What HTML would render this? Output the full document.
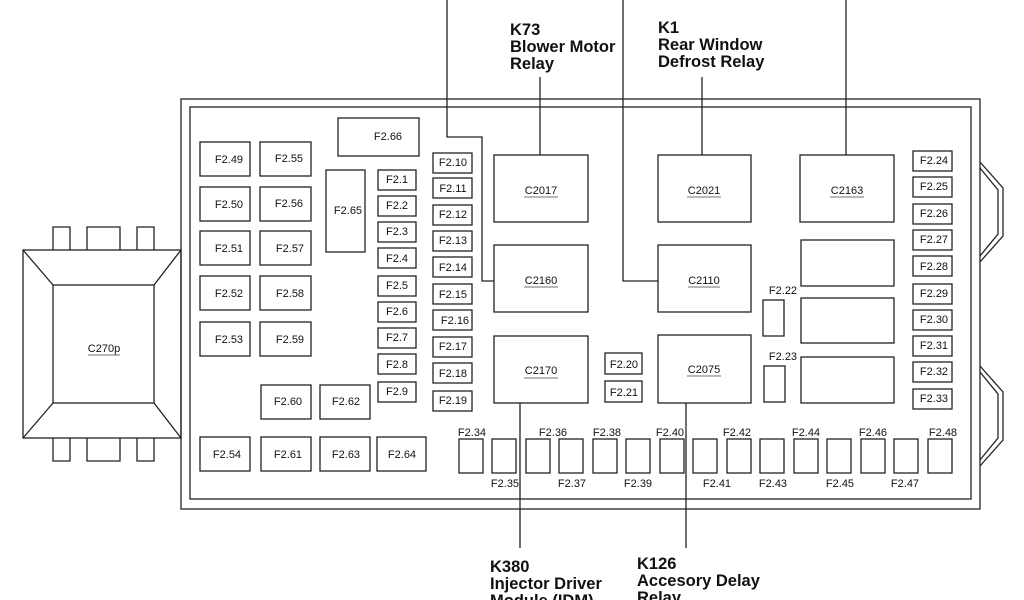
<!DOCTYPE html>
<html><head><meta charset="utf-8"><style>
html,body{margin:0;padding:0;background:#fff;}
svg{display:block;}
text{font-family:"Liberation Sans",Arial,sans-serif;fill:#111;}
.f{font-size:11px;}
.b{font-size:16.5px;font-weight:bold;}
</style></head><body>
<svg width="1024" height="600" viewBox="0 0 1024 600" xmlns="http://www.w3.org/2000/svg">
<g fill="none" stroke="#222" stroke-width="1.3">
<rect x="181" y="99" width="799" height="410"/>
<rect x="190" y="107" width="781" height="392"/>
<path d="M980 162 L1003 188 L1003 236 L980 262"/>
<path d="M980 168 L998 190 L998 234 L980 256"/>
<path d="M980 366 L1003 392 L1003 440 L980 466"/>
<path d="M980 372 L998 394 L998 438 L980 460"/>
<rect x="23" y="250" width="158" height="188"/>
<rect x="53" y="285" width="101" height="118"/>
<path d="M23 250 L53 285 M181 250 L154 285 M23 438 L53 403 M181 438 L154 403"/>
<path d="M53 250 V227 H70 V250 M87 250 V227 H120 V250 M137 250 V227 H154 V250"/>
<path d="M53 438 V461 H70 V438 M87 438 V461 H120 V438 M137 438 V461 H154 V438"/>
<rect x="200" y="142" width="50" height="34"/><rect x="260" y="142" width="51" height="34"/>
<rect x="200" y="187" width="50" height="34"/><rect x="260" y="187" width="51" height="34"/>
<rect x="200" y="231" width="50" height="34"/><rect x="260" y="231" width="51" height="34"/>
<rect x="200" y="276" width="50" height="34"/><rect x="260" y="276" width="51" height="34"/>
<rect x="200" y="322" width="50" height="34"/><rect x="260" y="322" width="51" height="34"/>
<rect x="261" y="385" width="50" height="34"/><rect x="320" y="385" width="50" height="34"/>
<rect x="200" y="437" width="50" height="34"/><rect x="261" y="437" width="50" height="34"/>
<rect x="320" y="437" width="50" height="34"/><rect x="377" y="437" width="49" height="34"/>
<rect x="338" y="118" width="81" height="38"/>
<rect x="326" y="170" width="39" height="82"/>
<rect x="378" y="170" width="38" height="20"/><rect x="378" y="196" width="38" height="20"/>
<rect x="378" y="222" width="38" height="20"/><rect x="378" y="248" width="38" height="20"/>
<rect x="378" y="276" width="38" height="20"/><rect x="378" y="302" width="38" height="20"/>
<rect x="378" y="328" width="38" height="20"/><rect x="378" y="354" width="38" height="20"/>
<rect x="378" y="382" width="38" height="20"/>
<rect x="433" y="153" width="39" height="20"/><rect x="433" y="178" width="39" height="20"/>
<rect x="433" y="205" width="39" height="20"/><rect x="433" y="231" width="39" height="20"/>
<rect x="433" y="257" width="39" height="20"/><rect x="433" y="284" width="39" height="20"/>
<rect x="433" y="310" width="39" height="20"/><rect x="433" y="337" width="39" height="20"/>
<rect x="433" y="363" width="39" height="20"/><rect x="433" y="391" width="39" height="20"/>
<rect x="913" y="151" width="39" height="20"/><rect x="913" y="177" width="39" height="20"/>
<rect x="913" y="204" width="39" height="20"/><rect x="913" y="230" width="39" height="20"/>
<rect x="913" y="256" width="39" height="20"/><rect x="913" y="284" width="39" height="20"/>
<rect x="913" y="310" width="39" height="20"/><rect x="913" y="336" width="39" height="20"/>
<rect x="913" y="362" width="39" height="20"/><rect x="913" y="389" width="39" height="20"/>
<rect x="494" y="155" width="94" height="67"/><rect x="494" y="245" width="94" height="67"/><rect x="494" y="336" width="94" height="67"/>
<rect x="658" y="155" width="93" height="67"/><rect x="658" y="245" width="93" height="67"/><rect x="658" y="335" width="93" height="68"/>
<rect x="800" y="155" width="94" height="67"/><rect x="801" y="240" width="93" height="46"/>
<rect x="801" y="298" width="93" height="45"/><rect x="801" y="357" width="93" height="46"/>
<rect x="763" y="300" width="21" height="36"/><rect x="764" y="366" width="21" height="36"/>
<rect x="605" y="353" width="37" height="21"/><rect x="605" y="381" width="37" height="21"/>
<rect x="459" y="439" width="24" height="34"/><rect x="492" y="439" width="24" height="34"/>
<rect x="526" y="439" width="24" height="34"/><rect x="559" y="439" width="24" height="34"/>
<rect x="593" y="439" width="24" height="34"/><rect x="626" y="439" width="24" height="34"/>
<rect x="660" y="439" width="24" height="34"/><rect x="693" y="439" width="24" height="34"/>
<rect x="727" y="439" width="24" height="34"/><rect x="760" y="439" width="24" height="34"/>
<rect x="794" y="439" width="24" height="34"/><rect x="827" y="439" width="24" height="34"/>
<rect x="861" y="439" width="24" height="34"/><rect x="894" y="439" width="24" height="34"/>
<rect x="928" y="439" width="24" height="34"/>
<path d="M447 0 V137 H482 V281 H494"/>
<path d="M623 0 V281 H658"/>
<path d="M846 0 V155"/>
<path d="M540 77 V155"/>
<path d="M702 77 V155"/>
<path d="M520 403 V548"/>
<path d="M686 403 V548"/>
</g>
<g stroke="#444" stroke-width="0.8">
<path d="M88 355 H120"/><path d="M524 197 H558"/><path d="M687 197 H721"/><path d="M830 197 H864"/>
<path d="M524 287 H558"/><path d="M688 287 H720"/><path d="M524 378 H558"/><path d="M687 376 H721"/>
</g>
<g class="f" text-anchor="middle">
<text x="104" y="352">C270p</text>
<text x="229" y="163">F2.49</text><text x="289" y="162">F2.55</text>
<text x="229" y="208">F2.50</text><text x="289" y="207">F2.56</text>
<text x="229" y="252">F2.51</text><text x="290" y="252">F2.57</text>
<text x="229" y="297">F2.52</text><text x="290" y="297">F2.58</text>
<text x="229" y="343">F2.53</text><text x="290" y="343">F2.59</text>
<text x="288" y="405">F2.60</text><text x="346" y="405">F2.62</text>
<text x="227" y="458">F2.54</text><text x="288" y="458">F2.61</text>
<text x="346" y="458">F2.63</text><text x="402" y="458">F2.64</text>
<text x="388" y="140">F2.66</text><text x="348" y="214">F2.65</text>
<text x="397" y="183">F2.1</text><text x="397" y="209">F2.2</text><text x="397" y="235">F2.3</text>
<text x="397" y="262">F2.4</text><text x="397" y="289">F2.5</text><text x="397" y="315">F2.6</text>
<text x="397" y="341">F2.7</text><text x="397" y="368">F2.8</text><text x="397" y="395">F2.9</text>
<text x="453" y="166">F2.10</text><text x="453" y="192">F2.11</text><text x="453" y="218">F2.12</text>
<text x="453" y="244">F2.13</text><text x="453" y="271">F2.14</text><text x="453" y="298">F2.15</text>
<text x="455" y="324">F2.16</text><text x="453" y="350">F2.17</text><text x="453" y="377">F2.18</text>
<text x="453" y="404">F2.19</text>
<text x="934" y="164">F2.24</text><text x="934" y="190">F2.25</text><text x="934" y="217">F2.26</text>
<text x="934" y="243">F2.27</text><text x="934" y="270">F2.28</text><text x="934" y="297">F2.29</text>
<text x="934" y="323">F2.30</text><text x="934" y="349">F2.31</text><text x="934" y="375">F2.32</text>
<text x="934" y="402">F2.33</text>
<text x="541" y="194">C2017</text><text x="541" y="284">C2160</text><text x="541" y="374">C2170</text>
<text x="704" y="194">C2021</text><text x="704" y="284">C2110</text><text x="704" y="373">C2075</text>
<text x="847" y="194">C2163</text>
<text x="783" y="294">F2.22</text><text x="783" y="360">F2.23</text>
<text x="624" y="368">F2.20</text><text x="624" y="396">F2.21</text>
<text x="472" y="436">F2.34</text><text x="553" y="436">F2.36</text><text x="607" y="436">F2.38</text>
<text x="670" y="436">F2.40</text><text x="737" y="436">F2.42</text><text x="806" y="436">F2.44</text>
<text x="873" y="436">F2.46</text><text x="943" y="436">F2.48</text>
<text x="505" y="487">F2.35</text><text x="572" y="487">F2.37</text><text x="638" y="487">F2.39</text>
<text x="717" y="487">F2.41</text><text x="773" y="487">F2.43</text><text x="840" y="487">F2.45</text>
<text x="905" y="487">F2.47</text>
</g>
<g class="b">
<text x="510" y="35">K73</text><text x="510" y="52">Blower Motor</text><text x="510" y="69">Relay</text>
<text x="658" y="33">K1</text><text x="658" y="50">Rear Window</text><text x="658" y="67">Defrost Relay</text>
<text x="490" y="572">K380</text><text x="490" y="589">Injector Driver</text><text x="490" y="606">Module (IDM)</text>
<text x="637" y="569">K126</text><text x="637" y="586">Accesory Delay</text><text x="637" y="603">Relay</text>
</g>
</svg>
</body></html>
